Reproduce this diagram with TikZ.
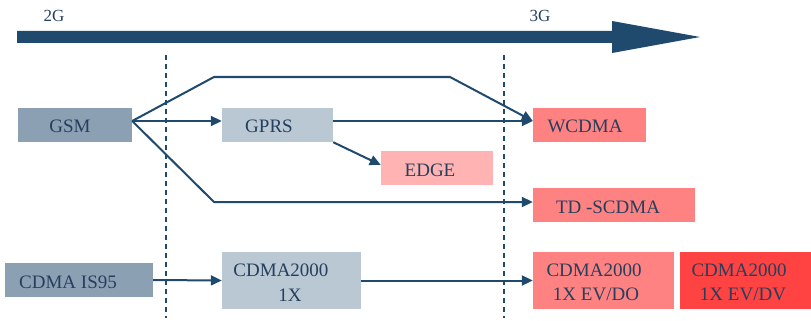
\documentclass[tikz,border=0pt]{standalone}
\usepackage{fontspec}
\setmainfont{Liberation Serif}
\usetikzlibrary{arrows.meta}
\definecolor{navy}{HTML}{1F4A6E}
\definecolor{txt}{HTML}{253F5C}
\definecolor{slate}{HTML}{8CA0B4}
\definecolor{pale}{HTML}{BAC8D4}
\definecolor{pinkA}{HTML}{FFB3B3}
\definecolor{pinkB}{HTML}{FF8282}
\definecolor{redC}{HTML}{FF4242}
\tikzset{
  box/.style={draw=none, inner sep=0pt, minimum height=34pt},
  lbl/.style={text=txt, font=\fontsize{19}{22}\selectfont, inner sep=0pt},
  conn/.style={draw=navy, line width=2pt},
  arr/.style={conn, -{Triangle[length=11pt,width=10pt]}},
  sep/.style={draw=navy, line width=2pt, dash pattern=on 5pt off 4pt},
}
\begin{document}
\begin{tikzpicture}[x=1pt,y=-1pt]
\useasboundingbox (0,0) rectangle (811,321);
% timeline arrow
\fill[navy] (17,31) -- (612,31) -- (612,21) -- (700,37) -- (612,53) -- (612,43) -- (17,43) -- cycle;
\node[text=txt, font=\fontsize{17}{19}\selectfont, inner sep=0pt] (g2) at (54,16) {2G};
\node[text=txt, font=\fontsize{17}{19}\selectfont, inner sep=0pt] (g3) at (540,16) {3G};
% separators
\coordinate (s1t) at (166,55); \coordinate (s1b) at (166,318);
\coordinate (s2t) at (504,55); \coordinate (s2b) at (504,318);
\draw[sep] (s1t) -- (s1b);
\draw[sep] (s2t) -- (s2b);
% boxes
\node[box, fill=slate, minimum width=114pt] (gsm) at (75,125) {};
\node[box, fill=pale, minimum width=111pt] (gprs) at (277.5,125) {};
\node[box, fill=pinkA, minimum width=112pt] (edge) at (437,168) {};
\node[box, fill=pinkB, minimum width=113pt] (wcdma) at (589.5,125) {};
\node[box, fill=pinkB, minimum width=162pt] (td) at (614,205) {};
\node[box, fill=slate, minimum width=148pt] (is95) at (79,280) {};
\node[box, fill=pale, minimum width=139pt, minimum height=57pt] (c1x) at (291.5,280.5) {};
\node[box, fill=pinkB, minimum width=141pt, minimum height=57pt] (evdo) at (603.5,280.5) {};
\node[box, fill=redC, minimum width=131pt, minimum height=57pt] (evdv) at (745.5,280.5) {};
% labels
\node[lbl] (tgsm) at (70,126) {GSM};
\node[lbl] (tgprs) at (269,126) {GPRS};
\node[lbl] (tedge) at (430,170) {EDGE};
\node[lbl] (twc) at (585,126) {WCDMA};
\node[lbl] (ttd) at (608,207) {TD -SCDMA};
\node[lbl] (tis) at (68,282) {CDMA IS95};
\node[lbl] (tc1a) at (281,270) {CDMA2000};
\node[lbl] (tc1b) at (290,295) {1X};
\node[lbl] (toa) at (594,270) {CDMA2000};
\node[lbl] (tob) at (596,294) {1X EV/DO};
\node[lbl] (tva) at (739,270) {CDMA2000};
\node[lbl] (tvb) at (743,294) {1X EV/DV};
% connectors
\coordinate (go) at ([yshift=4pt]gsm.east);
\coordinate (wi) at ([yshift=4pt]wcdma.west);
\coordinate (k1) at (214,77); \coordinate (k2) at (450,77);
\coordinate (k3) at (214,202);
\draw[arr] (go) -- (k1) -- (k2) -- (wi);
\draw[arr] (go) -- ([yshift=4pt]gprs.west);
\draw[arr] (go) -- (k3) -- (k3 -| td.west);
\draw[arr] ([yshift=4pt]gprs.east) -- (wi);
\draw[arr] (gprs.south east) -- ([yshift=3pt]edge.west);
\draw[arr] (is95.east) -- (c1x.west);
\draw[arr] (c1x.east) -- (evdo.west);
\end{tikzpicture}
\end{document}
